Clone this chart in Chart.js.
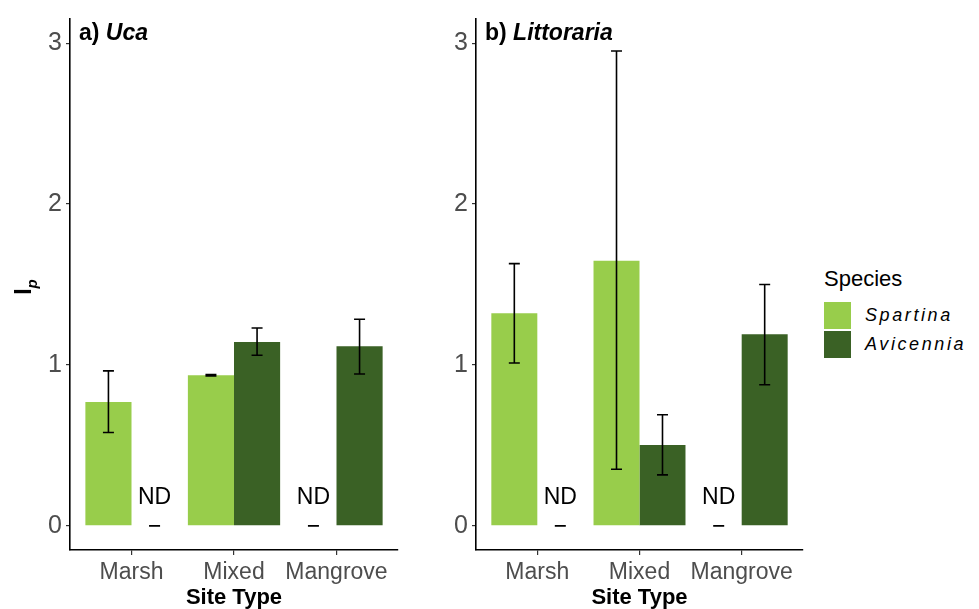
<!doctype html>
<html>
<head>
<meta charset="UTF-8">
<title>Ip by site type</title>
<script src="https://cdn.jsdelivr.net/npm/chart.js@4.4.1/dist/chart.umd.min.js"></script>
<style>
  body { margin:0; background:#fff; font-family:'Liberation Sans', Arial, sans-serif; }
  #wrap { position:relative; width:979px; height:609px; overflow:hidden; }
  canvas { position:absolute; top:0; }
  #ylab { position:absolute; left:5px; top:272px; width:36px; height:30px; transform:rotate(-90deg);
          font-weight:bold; font-size:23px; color:#000; line-height:30px; text-align:center; }
  #ylab sub { font-style:italic; font-size:15px; }
  #legend { position:absolute; left:824px; top:266px; color:#000; }
  #legend .ttl { font-size:22px; margin-bottom:9px; }
  #legend .row { height:29px; display:flex; align-items:center; }
  #legend .box { width:27px; height:27px; margin-right:14px; }
  #legend .lab { font-style:italic; font-size:18px; letter-spacing:2.6px; }
</style>
</head>
<body>
<div id="wrap">
  <canvas id="chartA" width="410" height="609" style="left:0"></canvas>
  <canvas id="chartB" width="405" height="609" style="left:410px"></canvas>
  <div id="ylab">I<sub>p</sub></div>
  <div id="legend">
    <div class="ttl">Species</div>
    <div class="row"><div class="box" style="background:#98CD4B"></div><span class="lab">Spartina</span></div>
    <div class="row"><div class="box" style="background:#3A6125"></div><span class="lab">Avicennia</span></div>
  </div>
</div>
<script>
// data
const siteTypes = ['Marsh', 'Mixed', 'Mangrove'];
const yTicks = [0, 1, 2, 3];

// a) Uca
const ucaSpartina      = [0.77, 0.936, null];
const ucaSpartinaLow   = [0.58, 0.932, 0];
const ucaSpartinaHigh  = [0.963, 0.94, 0];
const ucaAvicennia     = [null, 1.142, 1.117];
const ucaAvicenniaLow  = [0, 1.06, 0.944];
const ucaAvicenniaHigh = [0, 1.23, 1.284];

// b) Littoraria
const litSpartina      = [1.321, 1.648, null];
const litSpartinaLow   = [1.012, 0.352, 0];
const litSpartinaHigh  = [1.63, 2.951, 0];
const litAvicennia     = [null, 0.502, 1.191];
const litAvicenniaLow  = [0, 0.317, 0.877];
const litAvicenniaHigh = [0, 0.691, 1.5];

const colSpartina = '#98CD4B';
const colAvicennia = '#3A6125';
const FONT = "'Liberation Sans', Arial, sans-serif";
const ndTextY = 0.136;

const errorBars = {
  id: 'errorBars',
  afterDatasetsDraw(chart) {
    const ctx = chart.ctx, y = chart.scales.y;
    ctx.save();
    chart.data.datasets.forEach((ds, i) => {
      const meta = chart.getDatasetMeta(i);
      meta.data.forEach((bar, j) => {
        const x = bar.x;
        const lo = y.getPixelForValue(ds.errLow[j]);
        const hi = y.getPixelForValue(ds.errHigh[j]);
        ctx.strokeStyle = '#000';
        ctx.lineWidth = 1.6;
        ctx.beginPath();
        if (hi !== lo) { ctx.moveTo(x, lo); ctx.lineTo(x, hi); }
        ctx.moveTo(x - 5.5, lo); ctx.lineTo(x + 5.5, lo);
        ctx.moveTo(x - 5.5, hi); ctx.lineTo(x + 5.5, hi);
        ctx.stroke();
        if (ds.data[j] === null) {
          ctx.fillStyle = '#000';
          ctx.font = '23px ' + FONT;
          ctx.textAlign = 'center';
          ctx.textBaseline = 'alphabetic';
          ctx.fillText('ND', x, y.getPixelForValue(ndTextY));
        }
      });
    });
    ctx.restore();
  }
};

const panelTitle = {
  id: 'panelTitle',
  afterDraw(chart) {
    const o = chart.options.plugins.panelTitle;
    const ctx = chart.ctx;
    ctx.save();
    ctx.fillStyle = '#000';
    ctx.textBaseline = 'alphabetic';
    ctx.textAlign = 'left';
    let x = chart.chartArea.left + 9;
    ctx.font = 'bold 23px ' + FONT;
    ctx.fillText(o.prefix, x, 40);
    x += ctx.measureText(o.prefix).width;
    ctx.font = 'italic bold 23px ' + FONT;
    ctx.fillText(o.name, x, 40);
    ctx.restore();
  }
};

function makeChart(id, prefix, name, sp, spLo, spHi, av, avLo, avHi, yWidth) {
  return new Chart(document.getElementById(id), {
    type: 'bar',
    data: {
      labels: siteTypes,
      datasets: [
        { label: 'Spartina', data: sp, errLow: spLo, errHigh: spHi, backgroundColor: colSpartina },
        { label: 'Avicennia', data: av, errLow: avLo, errHigh: avHi, backgroundColor: colAvicennia }
      ]
    },
    options: {
      responsive: false,
      animation: false,
      devicePixelRatio: 1,
      layout: { padding: { top: 16, right: 12, left: 0, bottom: 0 } },
      datasets: { bar: { categoryPercentage: 0.9, barPercentage: 1.0, borderWidth: 0 } },
      plugins: {
        legend: { display: false },
        tooltip: { enabled: false },
        panelTitle: { prefix: prefix, name: name }
      },
      scales: {
        x: {
          // ggplot-style discrete expansion of 0.6 on both sides
          afterBuildTicks(s) { s._startValue = -0.6; s._valueRange = 3.2; },
          afterFit(s) { s.height = 59; },
          grid: { display: true, drawOnChartArea: false, drawTicks: true, tickLength: 5,
                  offset: false, color: '#333', lineWidth: 1.2 },
          border: { display: true, color: '#000', width: 1.6 },
          ticks: { color: '#4D4D4D', font: { family: FONT, size: 23 }, padding: 4, maxRotation: 0 },
          title: { display: true, text: 'Site Type', color: '#000',
                   font: { family: FONT, size: 22, weight: 'bold', lineHeight: 1 },
                   padding: { top: 0, bottom: 0 } }
        },
        y: {
          min: -0.15, max: 3.15,
          afterBuildTicks(s) { s.ticks = yTicks.map(v => ({ value: v })); },
          afterFit(s) { s.width = yWidth; },
          grid: { display: true, drawOnChartArea: false, drawTicks: true, tickLength: 4,
                  color: '#333', lineWidth: 1.2 },
          border: { display: true, color: '#000', width: 1.6 },
          ticks: { color: '#4D4D4D', font: { family: FONT, size: 25 }, padding: 4 }
        }
      }
    },
    plugins: [errorBars, panelTitle]
  });
}

makeChart('chartA', 'a) ', 'Uca', ucaSpartina, ucaSpartinaLow, ucaSpartinaHigh,
          ucaAvicennia, ucaAvicenniaLow, ucaAvicenniaHigh, 70);
makeChart('chartB', 'b) ', 'Littoraria', litSpartina, litSpartinaLow, litSpartinaHigh,
          litAvicennia, litAvicenniaLow, litAvicenniaHigh, 66);
</script>
</body>
</html>
